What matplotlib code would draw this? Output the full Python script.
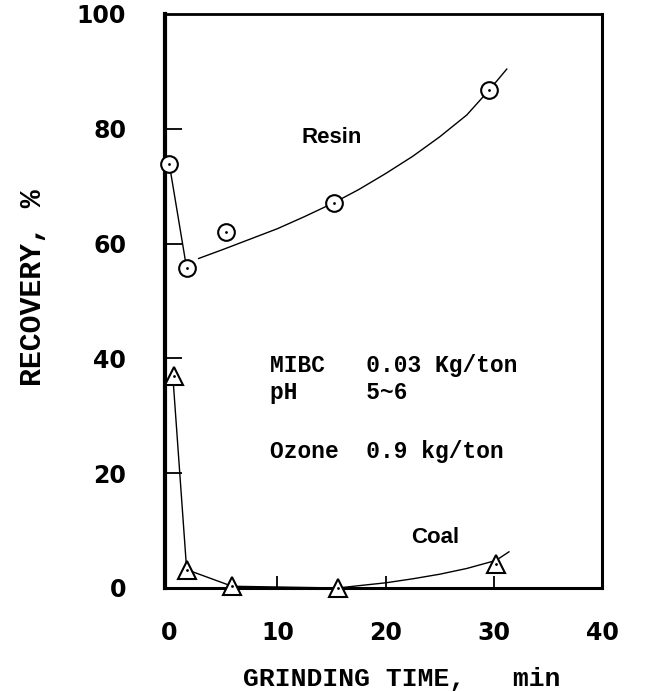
import matplotlib
matplotlib.use("Agg")
import matplotlib.pyplot as plt

# measured points
resin_t = [0, 1.6, 5.2, 15.2, 29.6]
resin_rec = [73.8, 55.7, 62.1, 67.1, 86.8]
coal_t = [0.4, 1.6, 5.8, 15.6, 30.2]
coal_rec = [37.0, 3.2, 0.3, 0.0, 4.2]

# hand-drawn curves, points
resin_drop_t = [0, 1.6]
resin_drop_y = [73.8, 55.7]
resin_fit_t = [2.7, 5, 7.5, 10, 12.5, 15.2, 17.5, 20, 22.5, 25, 27.5, 29.6, 31.2]
resin_fit_y = [57.4, 59.0, 60.8, 62.6, 64.7, 67.1, 69.4, 72.2, 75.2, 78.6, 82.4, 86.8, 90.4]
coal_fit_t = [0.3, 1.6, 5.8, 15.6, 17.5, 20, 22.5, 25, 27.5, 30.2, 31.4]
coal_fit_y = [37.5, 3.2, 0.3, 0.0, 0.4, 0.9, 1.6, 2.4, 3.4, 4.8, 6.3]

xticks = [0, 10, 20, 30, 40]
yticks = [0, 20, 40, 60, 80, 100]

cond_lines = ["MIBC   0.03 Kg/ton", "pH     5~6", "Ozone  0.9 kg/ton"]
cond_y = [38.7, 34.0, 23.7]

fig = plt.figure(figsize=(6.58, 6.92), dpi=100)
ax = fig.add_axes([0.2508, 0.1503, 0.664, 0.8295])

ax.plot(resin_drop_t, resin_drop_y, color="black", lw=1.0)
ax.plot(resin_fit_t, resin_fit_y, color="black", lw=1.0)
ax.plot(coal_fit_t, coal_fit_y, color="black", lw=1.0, clip_on=False)

ax.plot(resin_t, resin_rec, "o", ms=12, mfc="white", mec="black", mew=1.5,
        clip_on=False, zorder=5)
ax.plot(resin_t, resin_rec, ".", ms=2, color="black", clip_on=False, zorder=6)
ax.plot(coal_t, coal_rec, "^", ms=13, mfc="white", mec="black", mew=1.5,
        clip_on=False, zorder=5)
ax.plot(coal_t, coal_rec, ".", ms=2, color="black", clip_on=False, zorder=6)

ax.set_xlim(-0.4, 40)
ax.set_ylim(0, 100)
ax.set_xticks(xticks)
ax.set_yticks(yticks)
ax.set_xticklabels([str(v) for v in xticks], fontfamily="DejaVu Sans",
                   fontweight="bold", fontsize=17)
ax.set_yticklabels([str(v) for v in yticks], fontfamily="DejaVu Sans",
                   fontweight="bold", fontsize=17)
ax.tick_params(axis="x", direction="in", length=9, width=1.3, pad=24)
ax.tick_params(axis="y", direction="in", length=12, width=1.3, pad=28)
for tk in [ax.xaxis.get_major_ticks()[0], ax.xaxis.get_major_ticks()[-1],
           ax.yaxis.get_major_ticks()[0], ax.yaxis.get_major_ticks()[-1]]:
    tk.tick1line.set_visible(False)

ax.spines["left"].set_linewidth(3.0)
ax.spines["bottom"].set_linewidth(2.2)
ax.spines["top"].set_linewidth(2.0)
ax.spines["right"].set_linewidth(2.2)

mono = dict(fontfamily="Liberation Mono", fontweight="bold")
ax.set_xlabel("GRINDING TIME,   min", fontsize=19, va="baseline", **mono)
ax.xaxis.set_label_coords(0.542, -0.171)
ax.set_ylabel("RECOVERY, %", fontsize=21.5, **mono)
ax.yaxis.set_label_coords(-0.27, 0.523)

ax.text(15, 78.5, "Resin", fontsize=16, fontweight="bold",
        fontfamily="Liberation Sans", ha="center", va="center")
ax.text(24.6, 8.8, "Coal", fontsize=16, fontweight="bold",
        fontfamily="Liberation Sans", ha="center", va="center")
for line, yv in zip(cond_lines, cond_y):
    ax.text(9.3, yv, line, fontsize=16.5, va="center", ha="left", **mono)

fig.savefig("out.png", dpi=100)
